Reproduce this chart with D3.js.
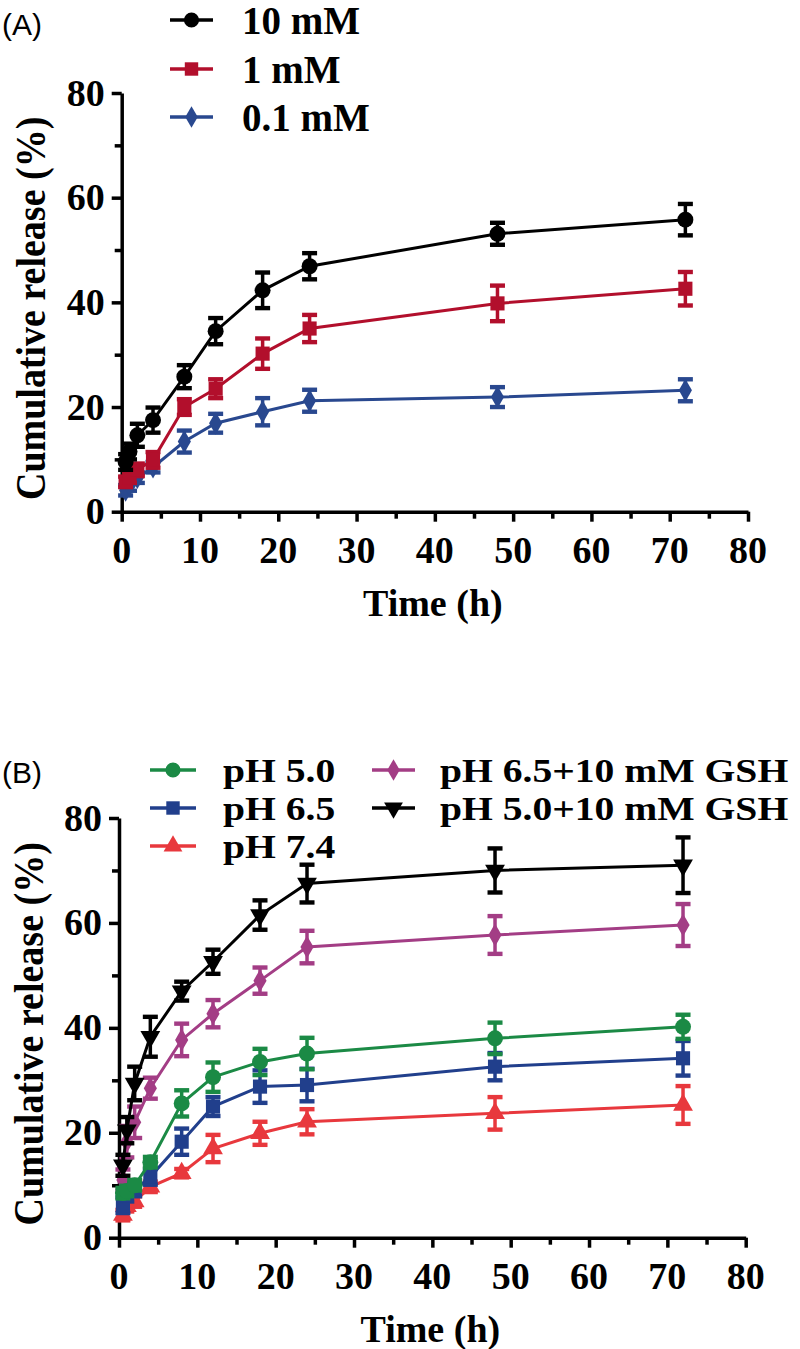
<!DOCTYPE html>
<html><head><meta charset="utf-8">
<script src="https://cdn.jsdelivr.net/npm/d3@7/dist/d3.min.js"></script>
<style>
body{margin:0;background:#fff;}
.lbl{font-family:"Liberation Serif","Times New Roman",serif;font-weight:bold;fill:#000;}
.pl{font-family:"Liberation Sans",Arial,sans-serif;font-weight:normal;fill:#000;}
</style></head><body><svg id="c" width="800" height="1349"></svg>
<script>
// ---------- shared axis values ----------
const times = [0.5, 1, 2, 4, 8, 12, 18, 24, 48, 72];
const xTicks = [0, 10, 20, 30, 40, 50, 60, 70, 80];
const xMinor = [5, 15, 25, 35, 45, 55, 65, 75];
const yTicks = [0, 20, 40, 60, 80];
const yMinor = [10, 30, 50, 70];

// ---------- Panel A ----------
const namesA = ["10 mM", "1 mM", "0.1 mM"];
const colorsA = ["#000000", "#b20f2c", "#29488f"];
const shapesA = ["circle", "square", "diamond"];
const a10 = [9.5, 11.5, 14.6, 17.5, 25.8, 34.5, 42.3, 46.9, 53.1, 55.8];
const a10e = [1.5, 1.5, 2.2, 2.4, 2.2, 2.5, 3.4, 2.5, 2.1, 3.0];
const a1 = [5.7, 6.5, 8.0, 9.9, 20.0, 23.5, 30.2, 35.0, 39.8, 42.6];
const a1e = [1.0, 1.0, 1.2, 1.5, 1.5, 1.8, 2.9, 2.6, 3.4, 3.2];
const a01 = [4.1, 5.0, 6.5, 8.5, 13.4, 16.9, 19.1, 21.2, 21.9, 23.2];
const a01e = [1.0, 1.0, 1.0, 1.0, 2.1, 1.8, 2.6, 2.1, 1.9, 2.1];

// ---------- Panel B ----------
const namesB = ["pH 5.0", "pH 6.5", "pH 7.4", "pH 6.5+10 mM GSH", "pH 5.0+10 mM GSH"];
const colorsB = ["#1b8a45", "#213f8c", "#e8383d", "#a33d85", "#000000"];
const shapesB = ["circle", "square", "triangle", "diamond", "triangleDown"];
const b50 = [8.5, 8.9, 10.0, 14.4, 25.6, 30.6, 33.5, 35.1, 38.0, 40.2];
const b50e = [1.0, 1.0, 1.0, 1.0, 2.5, 2.8, 2.5, 3.0, 3.0, 2.3];
const b65 = [6.2, 8.1, 9.1, 11.6, 18.3, 25.0, 28.8, 29.1, 32.6, 34.2];
const b65e = [1.5, 1.2, 1.2, 1.5, 2.5, 1.8, 3.1, 3.1, 2.6, 3.3];
const b74 = [4.3, 6.0, 6.9, 9.7, 12.3, 17.0, 19.9, 22.1, 23.7, 25.3];
const b74e = [1.0, 1.0, 1.0, 1.0, 0.8, 2.6, 2.2, 2.4, 3.1, 3.6];
const bG65 = [11.0, 18.3, 22.0, 28.5, 37.7, 42.7, 49.0, 55.4, 57.7, 59.6];
const bG65e = [2.0, 3.0, 3.0, 2.0, 3.1, 2.6, 2.5, 3.1, 3.6, 4.0];
const bG50 = [13.8, 20.5, 29.4, 38.3, 47.0, 52.6, 61.5, 67.5, 70.0, 71.0];
const bG50e = [2.0, 2.5, 3.2, 3.8, 1.8, 2.3, 2.8, 3.6, 4.2, 5.3];

const svg = d3.select("#c");
svg.append("rect").attr("width", 800).attr("height", 1349).attr("fill", "#fff");

function shapePath(shape, scale) {
  const k = scale || 1;
  const sym = {
    circle: d3.symbolCircle, square: d3.symbolSquare, diamond: d3.symbolDiamond,
    triangle: d3.symbolTriangle, triangleDown: d3.symbolTriangle
  }[shape];
  const size = {circle: 200, square: 200, diamond: 150, triangle: 170, triangleDown: 170}[shape] * k;
  return {d: d3.symbol().type(sym).size(size)(), rot: shape === "triangleDown" ? 180 : 0};
}

function drawPanel(cfg) {
  const x = d3.scaleLinear().domain([0, 80]).range(cfg.xr);
  const y = d3.scaleLinear().domain([0, 80]).range(cfg.yr);
  const g = svg.append("g");

  // minor ticks
  g.append("g").attr("transform", `translate(0,${cfg.yr[0]})`)
    .call(d3.axisBottom(x).tickValues(xMinor).tickSize(7).tickSizeOuter(0).tickFormat(""))
    .call(s => s.select(".domain").remove())
    .selectAll("line").attr("stroke-width", 3.5);
  g.append("g").attr("transform", `translate(${cfg.xr[0]},0)`)
    .call(d3.axisLeft(y).tickValues(yMinor).tickSize(7).tickSizeOuter(0).tickFormat(""))
    .call(s => s.select(".domain").remove())
    .selectAll("line").attr("stroke-width", 3.5);

  // major axes (lines from d3.axis, labels placed with the same scales)
  const xa = g.append("g").attr("transform", `translate(0,${cfg.yr[0]})`)
    .call(d3.axisBottom(x).tickValues(xTicks).tickSize(10).tickSizeOuter(0).tickFormat(""));
  const ya = g.append("g").attr("transform", `translate(${cfg.xr[0]},0)`)
    .call(d3.axisLeft(y).tickValues(yTicks).tickSize(10).tickSizeOuter(0).tickFormat(""));
  [xa, ya].forEach(a => {
    a.select(".domain").attr("stroke-width", 3.5);
    a.selectAll("line").attr("stroke-width", 3.5);
  });
  g.selectAll(".xl").data(xTicks).join("text").attr("class", "lbl")
    .attr("x", d => x(d)).attr("y", cfg.yr[0] + 51).attr("text-anchor", "middle")
    .style("font-size", "38px").text(d => d);
  g.selectAll(".yl").data(yTicks).join("text").attr("class", "lbl")
    .attr("x", cfg.xr[0] - 17).attr("y", d => y(d) + 12.5).attr("text-anchor", "end")
    .style("font-size", "38px").text(d => d);

  // axis titles
  g.append("text").attr("class", "lbl").attr("x", (cfg.xr[0] + cfg.xr[1]) / 2 - 2).attr("y", cfg.yr[0] + cfg.xtY)
    .attr("text-anchor", "middle").style("font-size", "38px").text("Time (h)");
  g.append("text").attr("class", "lbl")
    .attr("transform", `translate(${cfg.ytX},${(cfg.yr[0] + cfg.yr[1]) / 2 + 6}) rotate(-90) scale(1,1.12)`)
    .attr("text-anchor", "middle").style("font-size", "38px").text("Cumulative release (%)");

  // series
  cfg.series.forEach(s => {
    const sg = g.append("g");
    const pts = times.map((t, i) => ({t, v: s.v[i], e: s.e[i]}));
    sg.append("path").datum(pts)
      .attr("fill", "none").attr("stroke", s.color).attr("stroke-width", 3)
      .attr("d", d3.line().x(d => x(d.t)).y(d => y(d.v)));
    pts.forEach(d => {
      const cx = x(d.t);
      sg.append("line").attr("x1", cx).attr("x2", cx).attr("y1", y(d.v + d.e)).attr("y2", y(d.v - d.e))
        .attr("stroke", s.color).attr("stroke-width", 3.5);
      [d.v + d.e, d.v - d.e].forEach(vv => {
        sg.append("rect").attr("x", cx - 7.5).attr("y", y(vv) - 2.2).attr("width", 15).attr("height", 4.4)
          .attr("fill", s.color);
      });
    });
    const sp = shapePath(s.shape);
    sg.selectAll(".m").data(pts).join("path")
      .attr("d", sp.d).attr("fill", s.color)
      .attr("transform", d => `translate(${x(d.t)},${y(d.v)}) rotate(${sp.rot})`);
  });
}

drawPanel({
  xr: [121.7, 748], yr: [511.7, 93], xtY: 104, ytX: 45,
  series: [
    {v: a01, e: a01e, color: colorsA[2], shape: shapesA[2]},
    {v: a1, e: a1e, color: colorsA[1], shape: shapesA[1]},
    {v: a10, e: a10e, color: colorsA[0], shape: shapesA[0]}
  ]
});
drawPanel({
  xr: [119, 745.7], yr: [1237.7, 818], xtY: 104, ytX: 43,
  series: [
    {v: bG65, e: bG65e, color: colorsB[3], shape: shapesB[3]},
    {v: bG50, e: bG50e, color: colorsB[4], shape: shapesB[4]},
    {v: b74, e: b74e, color: colorsB[2], shape: shapesB[2]},
    {v: b65, e: b65e, color: colorsB[1], shape: shapesB[1]},
    {v: b50, e: b50e, color: colorsB[0], shape: shapesB[0]}
  ]
});

// legends
function legendItem(lx1, lx2, ly, tx, color, shape, label, fs, stretch) {
  const g = svg.append("g");
  g.append("line").attr("x1", lx1).attr("x2", lx2).attr("y1", ly).attr("y2", ly)
    .attr("stroke", color).attr("stroke-width", 3.5);
  const sp = shapePath(shape, 0.9);
  g.append("path").attr("d", sp.d).attr("fill", color)
    .attr("transform", `translate(${(lx1 + lx2) / 2},${ly}) rotate(${sp.rot})`);
  const t = g.append("text").attr("class", "lbl").attr("x", tx).attr("y", ly).attr("dy", "0.35em")
    .style("font-size", fs + "px").text(label);
  if (stretch && stretch !== 1) {
    const w = t.node().getComputedTextLength();
    t.attr("textLength", w * stretch).attr("lengthAdjust", "spacingAndGlyphs");
  }
}
const legARows = [20, 69, 117];
namesA.forEach((n, i) => legendItem(170, 213, legARows[i], 242, colorsA[i], shapesA[i], n, 39, 1));
const legBPos = [[150, 196, 770, 223], [150, 196, 808, 223], [150, 196, 846, 223], [372, 415, 770, 440], [372, 415, 808, 440]];
namesB.forEach((n, i) => {
  const p = legBPos[i];
  legendItem(p[0], p[1], p[2], p[3], colorsB[i], shapesB[i], n, 33, 1.2);
});

// panel letters
svg.append("text").attr("class", "pl").attr("x", 2).attr("y", 35).style("font-size", "30px").text("(A)");
svg.append("text").attr("class", "pl").attr("x", 2).attr("y", 783).style("font-size", "30px").text("(B)");
</script></body></html>
